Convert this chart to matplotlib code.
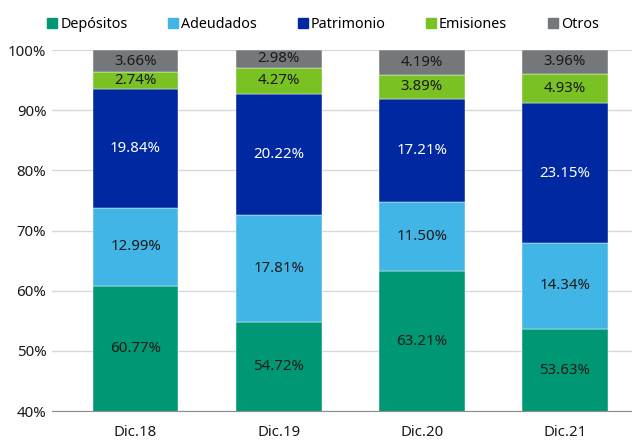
import matplotlib
matplotlib.use('Agg')
import matplotlib.pyplot as plt
from matplotlib.patches import Patch
import numpy as np

plt.rcParams['font.family'] = ['Noto Sans', 'DejaVu Sans']

# data (percent of total funding)
years = ['Dic.18', 'Dic.19', 'Dic.20', 'Dic.21']
depositos = [60.77, 54.72, 63.21, 53.63]
adeudados = [12.99, 17.81, 11.50, 14.34]
patrimonio = [19.84, 20.22, 17.21, 23.15]
emisiones = [2.74, 4.27, 3.89, 4.93]
otros = [3.66, 2.98, 4.19, 3.96]

series = [('Depósitos', depositos, '#009874', '#1a1a1a'),
          ('Adeudados', adeudados, '#41B6E6', '#1a1a1a'),
          ('Patrimonio', patrimonio, '#0028A0', 'white'),
          ('Emisiones', emisiones, '#7AC124', '#1a1a1a'),
          ('Otros', otros, '#75787B', '#1a1a1a')]

ymin, ymax = 40, 100

fig = plt.figure(figsize=(6.32, 4.41), dpi=100)
ax = fig.add_axes([0.0823, 0.068, 0.9177, 0.8186])

x = np.arange(len(years))
bottom = np.zeros(len(years))
for name, vals, col, tcol in series:
    vals = np.array(vals)
    ax.bar(x, vals, 0.6, bottom=bottom, color=col, zorder=2,
           edgecolor='white', linewidth=0.3)
    for i in range(len(years)):
        lo = max(bottom[i], ymin)
        hi = min(bottom[i] + vals[i], ymax)
        ax.text(x[i], (lo + hi) / 2, '%.2f%%' % vals[i], ha='center', va='center',
                color=tcol, fontsize=10.8, zorder=3)
    bottom = bottom + vals

ax.set_ylim(ymin, ymax)
ax.set_xlim(-0.584, 3.47)
ax.set_yticks(range(40, 101, 10))
ax.set_yticklabels(['%d%%' % v for v in range(40, 101, 10)])
ax.set_xticks(x)
ax.set_xticklabels(years)
ax.tick_params(length=0, labelsize=10.8, colors='#1a1a1a')
ax.tick_params(axis='y', pad=4)
ax.tick_params(axis='x', pad=10)
ax.yaxis.grid(True, color='#d9d9d9', linewidth=1, zorder=0)
ax.set_axisbelow(True)
for s in ['top', 'right', 'left']:
    ax.spines[s].set_visible(False)
ax.spines['bottom'].set_color('#8c8c8c')
ax.spines['bottom'].set_zorder(4)

handles = [Patch(color=c, label=n) for n, v, c, t in series]
fig.legend(handles=handles, loc='center left', bbox_to_anchor=(0.075, 0.945),
           ncol=5, frameon=False, fontsize=10.3, handlelength=0.7, handleheight=0.7,
           handletextpad=0.2, columnspacing=2.85, borderpad=0, borderaxespad=0)

fig.savefig('out.png', dpi=100)
